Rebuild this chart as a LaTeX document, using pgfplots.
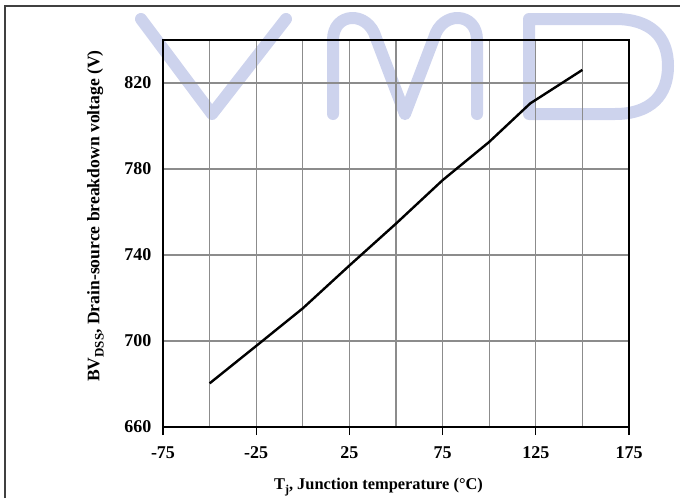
\documentclass[border=0pt]{standalone}
\usepackage{fontspec}
\setmainfont{Liberation Serif}
\usepackage{pgfplots}
\pgfplotsset{compat=1.18}
\definecolor{wm}{RGB}{205,211,237}
\definecolor{gridc}{RGB}{140,140,140}
\definecolor{framec}{RGB}{64,64,64}
\begin{document}
\begin{tikzpicture}
\begin{scope}[x=1pt,y=-1pt]
\draw[wm, line width=12pt, line cap=round, line join=round] (141,19) -- (212,114) -- (286,19);
\draw[wm, line width=12pt, line cap=round, line join=round] (333,114) -- (333,40) .. controls (333,12) and (368,10) .. (376,38) -- (405,114) -- (434,38) .. controls (442,10) and (477,12) .. (477,40) -- (477,114);
\draw[wm, line width=12pt, line cap=round, line join=round] (529,19) -- (529,114) -- (615,114) .. controls (651,114) and (668,95) .. (668,66) .. controls (668,37) and (651,19) .. (615,19) -- cycle;
\draw[framec, line width=2pt] (5,498) -- (5,6) -- (680,6);
\end{scope}
\begin{axis}[
  at={(163pt,-427pt)}, anchor=south west,
  scale only axis, width=466pt, height=387pt,
  xmin=-75, xmax=175, ymin=660, ymax=840,
  xtick={-75,-25,25,75,125,175},
  xticklabels={-75,-25,25,75,125,175},
  minor xtick={-50,0,50,100,150},
  ytick={660,700,740,780,820},
  yticklabels={660,700,740,780,820},
  xtick pos=bottom,
  ytick pos=left,
  grid=both,
  major grid style={gridc, line width=1.3pt},
  minor grid style={gridc, line width=1.3pt},
  tick align=outside,
  major tick length=8pt,
  minor tick length=0pt,
  xtick style={black, line width=1.2pt},
  ytick style={draw=none},
  axis line style={black, line width=2.6pt},
  /pgf/number format/assume math mode=true,
  xticklabel style={font=\fontsize{18}{18}\selectfont\bfseries, yshift=-8pt},
  yticklabel style={font=\fontsize{18}{18}\selectfont\bfseries},
]
\addplot[black, line width=2.4pt] coordinates {
  (-50,680.3) (-25,697.7) (0,715.2) (25,735.1) (50,754.6) (75,774.8)
  (100,792.6) (122,810.5) (150,826.1)
};
\end{axis}
\begin{scope}[x=1pt,y=-1pt]
\node[font=\fontsize{17.6}{17.6}\selectfont\bfseries, rotate=90, inner sep=0pt] at (95.5,216) {BV\raisebox{-0.25em}{\fontsize{13}{13}\selectfont DSS}, Drain-source breakdown voltage (V)};
\node[font=\fontsize{16.4}{16.4}\selectfont\bfseries, inner sep=0pt] at (378.5,487) {T\raisebox{-0.25em}{\fontsize{12}{12}\selectfont j}, Junction temperature (°C)};
\end{scope}
\pgfresetboundingbox
\path (0pt,0pt) rectangle (680pt,-498pt);
\end{tikzpicture}
\end{document}
